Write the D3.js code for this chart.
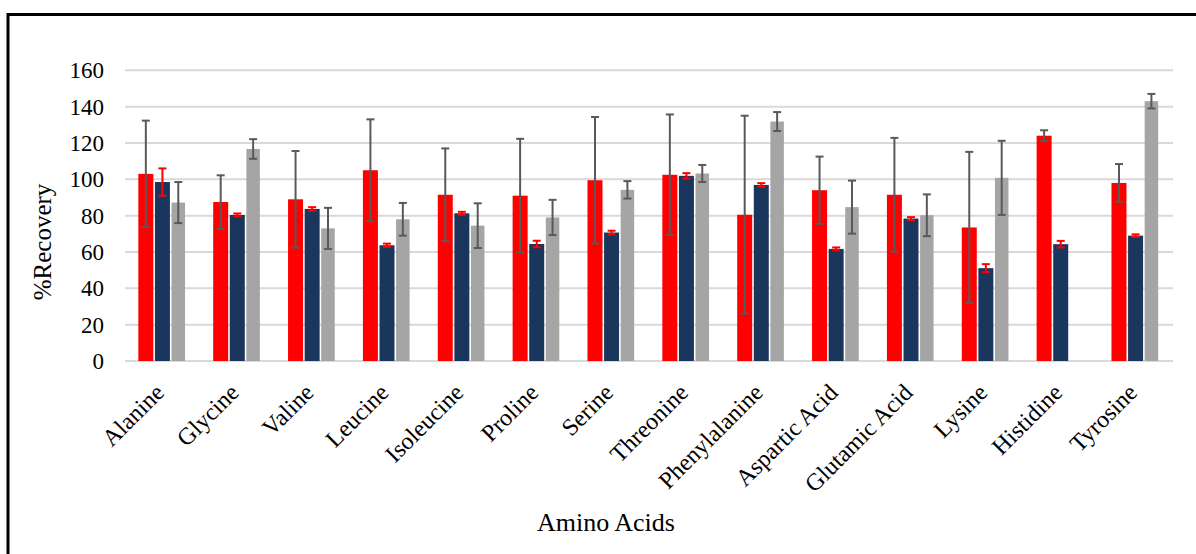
<!DOCTYPE html>
<html>
<head>
<meta charset="utf-8">
<script src="https://cdnjs.cloudflare.com/ajax/libs/d3/7.8.5/d3.min.js"></script>
<style>
  html, body { margin: 0; padding: 0; background: #fff; }
  svg { display: block; }
  text { font-family: "Liberation Serif", "Times New Roman", serif; fill: #000; }
</style>
</head>
<body>
<svg id="chart" width="1196" height="554"></svg>
<script>
// Amino acids on the category axis
const categories = ["Alanine", "Glycine", "Valine", "Leucine", "Isoleucine", "Proline",
  "Serine", "Threonine", "Phenylalanine", "Aspartic Acid", "Glutamic Acid",
  "Lysine", "Histidine", "Tyrosine"];

const seriesNames = ["Series 1", "Series 2", "Series 3"];

// Mean % recovery per series
const series1 = [103, 87.5, 89, 105, 91.5, 91, 99.5, 102.5, 80.5, 94, 91.5, 73.5, 124, 98];
const series2 = [98.5, 80.4, 83.7, 63.7, 81.3, 64.4, 70.7, 101.9, 96.9, 61.7, 78.4, 51.1, 64.3, 69];
const series3 = [87.2, 116.7, 73, 78, 74.5, 79, 94.2, 103.2, 131.8, 84.7, 80.2, 100.8, null, 143];

// Error (± half range) per series
const error1 = [29.3, 14.7, 26.6, 28, 25.5, 31.3, 34.8, 33.2, 54.5, 18.5, 31.3, 41.6, 3, 10.4];
const error2 = [7.5, 0.8, 1, 0.9, 0.8, 1.8, 1, 1.5, 1, 0.8, 0.8, 2.2, 1.8, 0.7];
const error3 = [11.3, 5.4, 11.3, 9, 12.3, 9.7, 4.8, 4.7, 5.2, 14.6, 11.5, 20.4, null, 4];

const yTicks = [0, 20, 40, 60, 80, 100, 120, 140, 160];

const barColors = ["#FF0000", "#1B365D", "#A5A5A5"];
const errColors = ["#595959", "#FF0000", "#595959"];
const barWidths = [15, 15, 13.5];

const values = [series1, series2, series3];
const errors = [error1, error2, error3];

const svg = d3.select("#chart");
const W = 1196, H = 554;
const plot = { left: 125, right: 1173, top: 70.3, bottom: 361 };

// Outer frame
svg.append("rect")
  .attr("x", 8).attr("y", 14.5)
  .attr("width", W + 20).attr("height", H + 20)
  .attr("fill", "none").attr("stroke", "#000").attr("stroke-width", 3);

const x0 = d3.scaleBand()
  .domain(categories)
  .range([plot.left, plot.right])
  .paddingInner(0.335)
  .paddingOuter(0.1675);

const x1 = d3.scaleBand()
  .domain(seriesNames)
  .range([0, x0.bandwidth()])
  .padding(0);

const y = d3.scaleLinear()
  .domain([0, 160])
  .range([plot.bottom, plot.top]);

// Gridlines
svg.append("g")
  .selectAll("line")
  .data(yTicks)
  .join("line")
  .attr("x1", plot.left).attr("x2", plot.right)
  .attr("y1", d => y(d)).attr("y2", d => y(d))
  .attr("stroke", "#D9D9D9").attr("stroke-width", 2);

// Y tick labels
svg.append("g")
  .selectAll("text")
  .data(yTicks)
  .join("text")
  .attr("x", 104)
  .attr("y", d => y(d))
  .attr("dy", "0.35em")
  .attr("text-anchor", "end")
  .attr("font-size", 23)
  .text(d => d);

// Bars
const groups = svg.append("g")
  .selectAll("g")
  .data(seriesNames.map((name, si) => ({ name, si })))
  .join("g");

groups.each(function (s) {
  const g = d3.select(this);
  const pts = categories.map((c, i) => ({ c, v: values[s.si][i], e: errors[s.si][i] }))
    .filter(d => d.v != null);
  const bw = barWidths[s.si];
  const cx = d => x0(d.c) + x1(s.name) + x1.bandwidth() / 2;

  g.selectAll("rect")
    .data(pts)
    .join("rect")
    .attr("x", d => cx(d) - (barWidths[0]) / 2)
    .attr("width", bw)
    .attr("y", d => y(d.v))
    .attr("height", d => y(0) - y(d.v))
    .attr("fill", barColors[s.si]);
});

// Error bars drawn on top of all bars
groups.each(function (s) {
  const g = d3.select(this).append("g");
  const pts = categories.map((c, i) => ({ c, v: values[s.si][i], e: errors[s.si][i] }))
    .filter(d => d.v != null && d.e != null);
  const bw = barWidths[s.si];
  const cx = d => x0(d.c) + x1(s.name) + x1.bandwidth() / 2 - (barWidths[0] - bw) / 2;
  const col = errColors[s.si];
  const cap = 4;

  g.selectAll("line.stem").data(pts).join("line")
    .attr("class", "stem")
    .attr("x1", cx).attr("x2", cx)
    .attr("y1", d => y(d.v + d.e)).attr("y2", d => y(d.v - d.e))
    .attr("stroke", col).attr("stroke-width", 2);
  g.selectAll("line.capTop").data(pts).join("line")
    .attr("class", "capTop")
    .attr("x1", d => cx(d) - cap).attr("x2", d => cx(d) + cap)
    .attr("y1", d => y(d.v + d.e)).attr("y2", d => y(d.v + d.e))
    .attr("stroke", col).attr("stroke-width", 2);
  g.selectAll("line.capBot").data(pts).join("line")
    .attr("class", "capBot")
    .attr("x1", d => cx(d) - cap).attr("x2", d => cx(d) + cap)
    .attr("y1", d => y(d.v - d.e)).attr("y2", d => y(d.v - d.e))
    .attr("stroke", col).attr("stroke-width", 2);
});

// Category labels, rotated
svg.append("g")
  .selectAll("text")
  .data(categories)
  .join("text")
  .attr("transform", d => `translate(${x0(d) + x0.bandwidth() / 2 + 3},${394}) rotate(-45)`)
  .attr("text-anchor", "end")
  .attr("font-size", 24)
  .text(d => d);

// Axis titles
svg.append("text")
  .attr("x", 606).attr("y", 531)
  .attr("text-anchor", "middle")
  .attr("font-size", 26)
  .text("Amino Acids");

svg.append("text")
  .attr("transform", "translate(51,242) rotate(-90)")
  .attr("text-anchor", "middle")
  .attr("font-size", 25)
  .text("%Recovery");
</script>
</body>
</html>
